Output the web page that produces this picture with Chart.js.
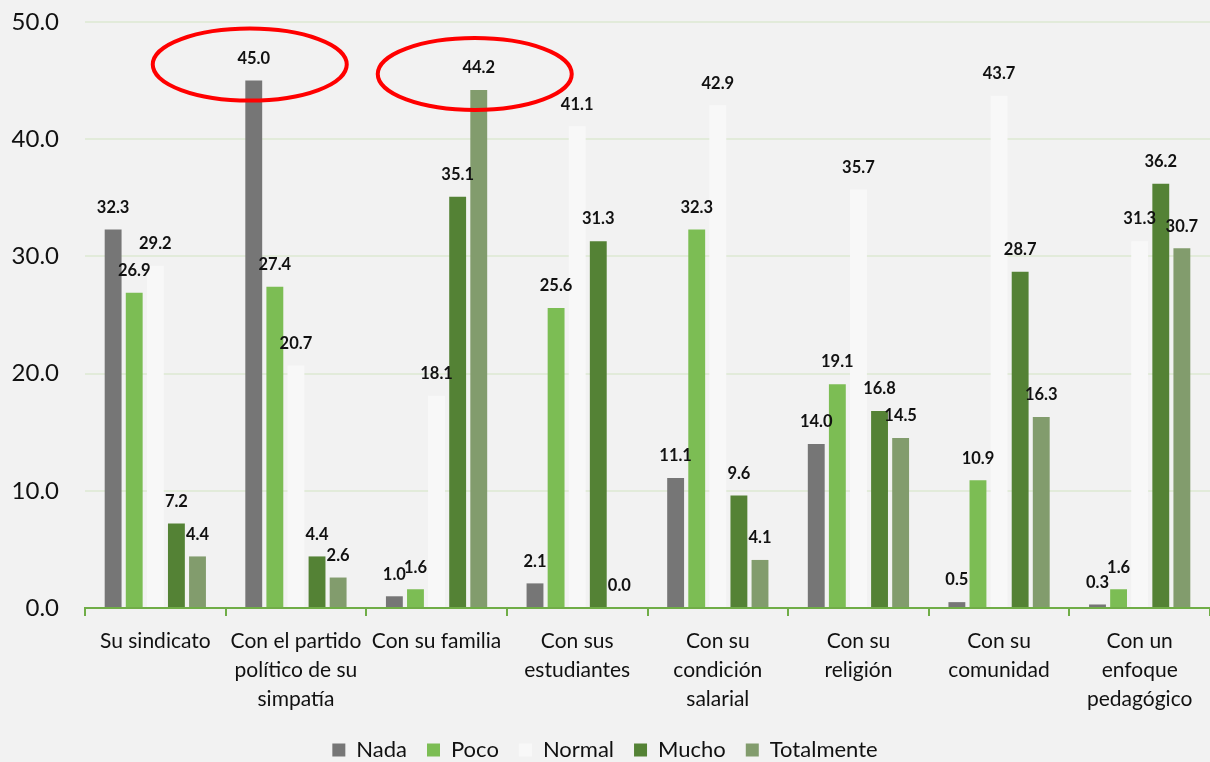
<!DOCTYPE html>
<html>
<head>
<meta charset="utf-8">
<script src="https://cdn.jsdelivr.net/npm/chart.js"></script>
<style>
  html, body { margin: 0; padding: 0; background: #f2f2f2; overflow: hidden; }
  #wrap { width: 1210px; height: 762px; position: relative; }
</style>
</head>
<body>
<div id="wrap"><canvas id="chart"></canvas></div>
<script>
// categories and series
const categories = [
  "Su sindicato",
  ["Con el partido", "político de su", "simpatía"],
  "Con su familia",
  ["Con sus", "estudiantes"],
  ["Con su", "condición", "salarial"],
  ["Con su", "religión"],
  ["Con su", "comunidad"],
  ["Con un", "enfoque", "pedagógico"]
];
const nada       = [32.3, 45.0, 1.0, 2.1, 11.1, 14.0, 0.5, 0.3];
const poco       = [26.9, 27.4, 1.6, 25.6, 32.3, 19.1, 10.9, 1.6];
const normal     = [29.2, 20.7, 18.1, 41.1, 42.9, 35.7, 43.7, 31.3];
const mucho      = [7.2, 4.4, 35.1, 31.3, 9.6, 16.8, 28.7, 36.2];
const totalmente = [4.4, 2.6, 44.2, 0.0, 4.1, 14.5, 16.3, 30.7];
const yTicks = [0, 10, 20, 30, 40, 50];

// bars that are circled in red: [datasetIndex, categoryIndex]
const circled = [[0, 1], [4, 2]];

const FONT = "Lato, 'Open Sans', sans-serif";

const background = {
  id: "background",
  beforeDraw(chart) {
    const c = chart.ctx;
    c.save();
    c.fillStyle = "#f2f2f2";
    c.fillRect(0, 0, chart.width, chart.height);
    c.restore();
  }
};

// value labels above every bar
const valueLabels = {
  id: "valueLabels",
  afterDatasetsDraw(chart) {
    const c = chart.ctx;
    c.save();
    c.font = "bold 16.5px " + FONT;
    c.fillStyle = "#111";
    c.textAlign = "center";
    c.textBaseline = "middle";
    chart.data.datasets.forEach((ds, i) => {
      chart.getDatasetMeta(i).data.forEach((bar, j) => {
        c.fillText(ds.data[j].toFixed(1), bar.x, bar.y - 22);
      });
    });
    c.restore();
  }
};

// red ellipses around the two highest values
const ellipses = {
  id: "ellipses",
  afterDraw(chart) {
    const c = chart.ctx;
    c.save();
    c.strokeStyle = "#ff0000";
    c.lineWidth = 4;
    circled.forEach(([d, k]) => {
      const bar = chart.getDatasetMeta(d).data[k];
      c.beginPath();
      c.ellipse(bar.x - 4, bar.y - 16, 97, 36, 0, 0, Math.PI * 2);
      c.stroke();
    });
    c.restore();
  }
};

new Chart(document.getElementById("chart"), {
  type: "bar",
  data: {
    labels: categories,
    datasets: [
      { label: "Nada", data: nada, backgroundColor: "#767676" },
      { label: "Poco", data: poco, backgroundColor: "#7cbd54" },
      { label: "Normal", data: normal, backgroundColor: "#f8f8f8" },
      { label: "Mucho", data: mucho, backgroundColor: "#548235" },
      { label: "Totalmente", data: totalmente, backgroundColor: "#829c6d" }
    ]
  },
  options: {
    responsive: true,
    maintainAspectRatio: false,
    animation: false,
    categoryPercentage: 0.75,
    barPercentage: 0.8,
    layout: { padding: { top: 22, right: 0, left: 0, bottom: -9 } },
    plugins: {
      tooltip: { enabled: false },
      legend: {
        position: "bottom",
        labels: {
          color: "#111",
          font: { family: FONT, size: 22 },
          boxWidth: 13,
          boxHeight: 13,
          padding: 20
        }
      }
    },
    scales: {
      x: {
        afterFit(scale) { scale.height = 111; },
        grid: {
          offset: true,
          drawOnChartArea: false,
          drawTicks: true,
          tickLength: 8,
          color: "#70ad47",
          lineWidth: 2
        },
        border: { color: "#70ad47", width: 2 },
        ticks: {
          color: "#111",
          font: { family: FONT, size: 21, lineHeight: 1.38 },
          maxRotation: 0,
          autoSkip: false,
          padding: 11
        }
      },
      y: {
        min: 0,
        max: 50,
        afterBuildTicks(scale) {
          scale.ticks = yTicks.map(v => ({ value: v }));
        },
        afterFit(scale) { scale.width = 85; },
        grid: {
          color: "#e2ebda",
          lineWidth: 2,
          drawTicks: true,
          tickLength: 26,
          tickColor: "rgba(0,0,0,0)"
        },
        border: { display: false },
        ticks: {
          color: "#111",
          font: { family: FONT, size: 24 },
          padding: 0,
          callback: v => v.toFixed(1)
        }
      }
    }
  },
  plugins: [background, valueLabels, ellipses]
});
</script>
</body>
</html>
